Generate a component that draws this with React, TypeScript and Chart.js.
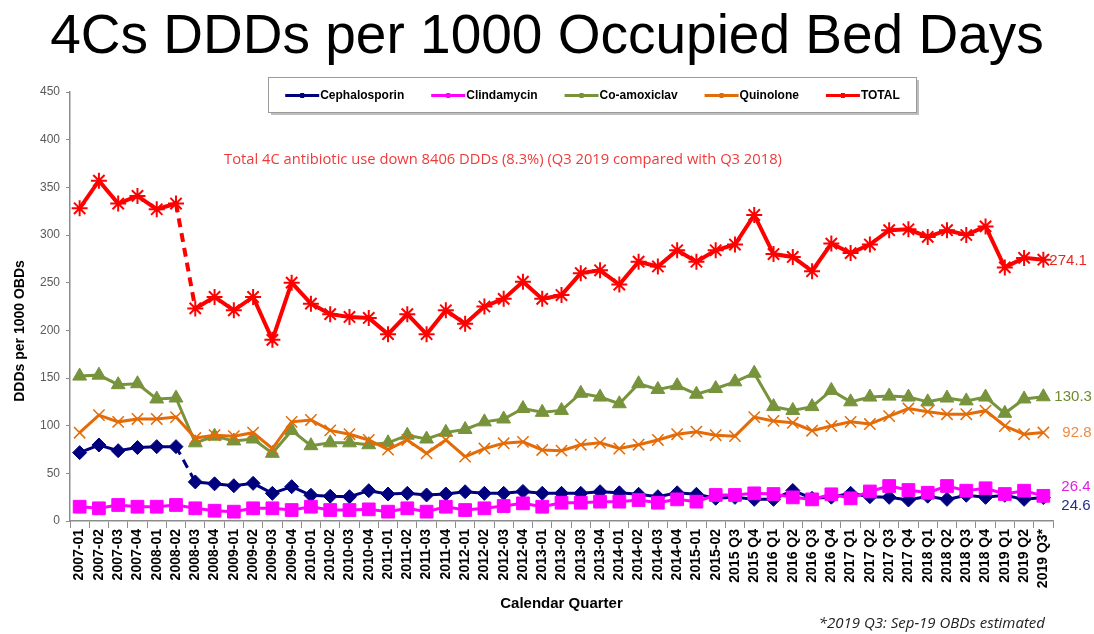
import React, { useEffect, useRef } from "react";
import { Chart, registerables } from "chart.js";

Chart.register(...registerables);

const quarters = [
  "2007-01", "2007-02", "2007-03", "2007-04", "2008-01", "2008-02", "2008-03", "2008-04",
  "2009-01", "2009-02", "2009-03", "2009-04", "2010-01", "2010-02", "2010-03", "2010-04",
  "2011-01", "2011-02", "2011-03", "2011-04", "2012-01", "2012-02", "2012-03", "2012-04",
  "2013-01", "2013-02", "2013-03", "2013-04", "2014-01", "2014-02", "2014-03", "2014-04",
  "2015-01", "2015-02", "2015 Q3", "2015 Q4", "2016 Q1", "2016 Q2", "2016 Q3", "2016 Q4",
  "2017 Q1", "2017 Q2", "2017 Q3", "2017 Q4", "2018 Q1", "2018 Q2", "2018 Q3", "2018 Q4",
  "2019 Q1", "2019 Q2", "2019 Q3*",
];

const cephalosporin = [
  71.7, 79.7, 73.8, 77, 78, 78, 41, 39, 37, 39.5, 29, 36, 27, 26, 25.5, 31.8, 28.3, 29, 27.3,
  28.3, 30.7, 29, 29, 31, 29, 29, 29, 30.7, 29.6, 28, 25.5, 29.6, 28, 23.8, 24.8, 22.7, 22.7,
  32, 23.8, 25, 29, 25.5, 24.8, 22, 26, 22.7, 27, 24.8, 27, 22.7, 24.6,
];

const clindamycin = [
  15, 13.3, 16.8, 15, 15, 16.8, 13.3, 10.8, 9.8, 13.3, 13.3, 11.5, 15, 11.5, 11.5, 12.2, 9.8,
  13.3, 9.8, 15, 11.5, 13.3, 15.7, 18.5, 15, 19.2, 19.2, 20.3, 20.3, 22, 19.2, 22.7, 20.3,
  27.3, 27.3, 29, 28.3, 24.8, 22.7, 28, 23.8, 31, 36.7, 32.5, 29.6, 36.7, 31.8, 34.3, 28.3,
  31.8, 26.4,
];

const coAmoxiclav = [
  152, 153, 143, 144, 128, 129, 82, 89, 84, 86, 71, 95, 79, 82, 82, 80, 82, 90, 86, 93, 96,
  104, 107, 118, 114, 116, 134, 130, 123, 144, 138, 142, 133, 139, 146, 155, 120, 116, 120,
  137, 125, 130, 131, 130, 125, 129, 126, 130, 113, 128, 130.3,
];

const quinolone = [
  92.6, 111, 104, 107, 107, 109, 87, 90, 89, 92.6, 76, 104, 106, 95, 91, 85, 75, 85, 71, 85,
  67.5, 76, 81.5, 83, 74.5, 73.8, 80, 82, 76, 80, 85, 91, 93.7, 90, 89, 109, 105, 103, 94.7,
  99.6, 104, 101.7, 110, 118, 114.7, 112, 112, 115.7, 99.6, 91, 92.8,
];

const total = [
  328, 357, 333, 341, 327, 333, 223, 235, 221, 235, 190, 250, 228, 217, 214, 213, 196, 217,
  196, 221, 207, 225, 233, 251, 233, 237, 260, 263, 248, 272, 267, 284, 272, 284, 290, 321,
  280, 277, 262, 291, 281, 290, 305, 306, 298, 305, 300, 309, 266, 276, 274.1,
];

const seriesNames = ["Cephalosporin", "Clindamycin", "Co-amoxiclav", "Quinolone", "TOTAL"];
const seriesColors = ["#00007f", "#ff00ff", "#77933c", "#e36c09", "#ff0000"];
const endLabelColors = ["#1f2f8f", "#e020e0", "#6f8a30", "#f08a40", "#e8281e"];

const titleText = "4Cs DDDs per 1000 Occupied Bed Days";
const noteText = "Total 4C antibiotic use down 8406 DDDs (8.3%) (Q3 2019 compared with Q3 2018)";
const footText = "*2019 Q3: Sep-19 OBDs estimated";
const yTitle = "DDDs per 1000 OBDs";
const xTitle = "Calendar Quarter";

const FONT = "'Liberation Sans', Arial, sans-serif";

const dashAfterBreak = (ctx: any) => (ctx.p0DataIndex === 5 ? [9, 6] : undefined);

const decorPlugin = {
  id: "decor",
  afterDraw(chart: any) {
    const ctx = chart.ctx as CanvasRenderingContext2D;
    ctx.save();

    // main title
    ctx.fillStyle = "#000";
    ctx.font = `55px ${FONT}`;
    ctx.textAlign = "center";
    ctx.textBaseline = "alphabetic";
    ctx.fillText(titleText, 547, 53);

    // annotation
    ctx.font = `14px 'Open Sans', ${FONT}`;
    const w = ctx.measureText(noteText).width;
    const fs = (14 * 558) / w;
    ctx.font = `${fs.toFixed(2)}px 'Open Sans', ${FONT}`;
    ctx.fillStyle = "#f03a3a";
    ctx.textBaseline = "middle";
    ctx.fillText(noteText, 503, 160);

    // footnote
    ctx.font = `italic 15px 'Open Sans', ${FONT}`;
    ctx.fillStyle = "#222";
    ctx.textAlign = "right";
    ctx.fillText(footText, 1045, 624);

    // y title
    ctx.save();
    ctx.translate(20, 331);
    ctx.rotate(-Math.PI / 2);
    ctx.font = `bold 14px ${FONT}`;
    ctx.fillStyle = "#000";
    ctx.textAlign = "center";
    ctx.fillText(yTitle, 0, 0);
    ctx.restore();

    // legend
    const bx = 268, by = 77, bw = 648, bh = 35;
    ctx.fillStyle = "#bdbdbd";
    ctx.fillRect(bx + 3, by + 3, bw, bh);
    ctx.fillStyle = "#fff";
    ctx.fillRect(bx, by, bw, bh);
    ctx.strokeStyle = "#9a9a9a";
    ctx.lineWidth = 1;
    ctx.strokeRect(bx + 0.5, by + 0.5, bw, bh);
    ctx.font = `bold 12px ${FONT}`;
    const sample = 34;
    const gap = 28;
    const widths = seriesNames.map((n) => ctx.measureText(n).width);
    const totalW = widths.reduce((a, b) => a + b + sample, 0) + gap * (seriesNames.length - 1);
    let lx = bx + bw / 2 - totalW / 2;
    const ly = by + bh / 2 + 1;
    ctx.textAlign = "left";
    ctx.textBaseline = "middle";
    seriesNames.forEach((n, i) => {
      ctx.strokeStyle = seriesColors[i];
      ctx.lineWidth = 3;
      ctx.beginPath();
      ctx.moveTo(lx, ly);
      ctx.lineTo(lx + sample, ly);
      ctx.stroke();
      ctx.fillStyle = seriesColors[i];
      ctx.fillRect(lx + sample / 2 - 2, ly - 2.5, 4, 5);
      ctx.fillStyle = "#000";
      ctx.fillText(n, lx + sample + 1, ly);
      lx += sample + widths[i] + gap;
    });

    // end value labels
    const offsets = [
      { dx: 18, dy: 8 },
      { dx: 18, dy: -9 },
      { dx: 11, dy: 0 },
      { dx: 19, dy: 0 },
      { dx: 6, dy: 1 },
    ];
    ctx.font = `15px ${FONT}`;
    chart.data.datasets.forEach((ds: any, i: number) => {
      const meta = chart.getDatasetMeta(i);
      const last = meta.data[meta.data.length - 1];
      const v = ds.data[ds.data.length - 1];
      ctx.fillStyle = endLabelColors[i];
      ctx.fillText(String(v), last.x + offsets[i].dx, last.y + offsets[i].dy);
    });

    ctx.restore();
  },
};

export default function App() {
  const ref = useRef<HTMLCanvasElement | null>(null);

  useEffect(() => {
    document.body.style.margin = "0";
    const canvas = ref.current;
    if (!canvas) return;
    const chart = new Chart(canvas, {
      type: "line",
      data: {
        labels: quarters,
        datasets: [
          {
            label: seriesNames[0],
            data: cephalosporin,
            order: 5,
            borderColor: seriesColors[0],
            backgroundColor: seriesColors[0],
            borderWidth: 3,
            pointStyle: "rectRot",
            pointRadius: 7,
            pointBorderWidth: 1,
            segment: { borderDash: dashAfterBreak },
          },
          {
            label: seriesNames[1],
            data: clindamycin,
            order: 4,
            borderColor: seriesColors[1],
            backgroundColor: seriesColors[1],
            borderWidth: 3,
            pointStyle: "rect",
            pointRadius: 9,
            pointBorderWidth: 1,
          },
          {
            label: seriesNames[2],
            data: coAmoxiclav,
            order: 3,
            borderColor: seriesColors[2],
            backgroundColor: seriesColors[2],
            borderWidth: 3,
            pointStyle: "triangle",
            pointRadius: 8,
            pointBorderWidth: 1,
          },
          {
            label: seriesNames[3],
            data: quinolone,
            order: 2,
            borderColor: seriesColors[3],
            backgroundColor: seriesColors[3],
            borderWidth: 3,
            pointStyle: "crossRot",
            pointRadius: 8,
            pointBorderWidth: 1.5,
          },
          {
            label: seriesNames[4],
            data: total,
            order: 1,
            borderColor: seriesColors[4],
            backgroundColor: seriesColors[4],
            borderWidth: 4,
            pointStyle: "star",
            pointRadius: 8,
            pointBorderWidth: 2,
            segment: { borderDash: dashAfterBreak },
          },
        ],
      },
      options: {
        responsive: false,
        animation: false,
        devicePixelRatio: 1,
        layout: { padding: { top: 92, right: 41, bottom: 20, left: 0 } },
        elements: { line: { tension: 0 } },
        plugins: {
          legend: { display: false },
          title: { display: false },
          tooltip: { enabled: false },
        },
        scales: {
          x: {
            type: "category",
            offset: true,
            grid: {
              display: true,
              drawOnChartArea: false,
              drawTicks: true,
              tickLength: 7,
              offset: true,
              color: "#8c8c8c",
              lineWidth: 1,
            },
            border: { display: true, color: "#8c8c8c", width: 1.5 },
            ticks: {
              autoSkip: false,
              minRotation: 90,
              maxRotation: 90,
              padding: 1,
              color: "#000",
              font: { family: FONT, size: 14, weight: "bold" },
            },
            title: {
              display: true,
              text: xTitle,
              color: "#000",
              font: { family: FONT, size: 15, weight: "bold" },
              padding: { top: 4, bottom: 1 },
            },
            afterFit: (s: any) => {
              s.height = 93;
            },
          },
          y: {
            min: 0,
            max: 450,
            grid: {
              display: true,
              drawOnChartArea: false,
              drawTicks: true,
              tickLength: 4,
              color: "#8c8c8c",
            },
            border: { display: true, color: "#8c8c8c", width: 1.5 },
            ticks: {
              stepSize: 50,
              padding: 6,
              color: "#5a5a5a",
              font: { family: FONT, size: 12 },
            },
            afterFit: (s: any) => {
              s.width = 70;
            },
          },
        },
      },
      plugins: [decorPlugin],
    } as any);
    return () => chart.destroy();
  }, []);

  return (
    <div style={{ width: 1094, height: 634, background: "#fff" }}>
      <canvas ref={ref} width={1094} height={634} />
    </div>
  );
}
